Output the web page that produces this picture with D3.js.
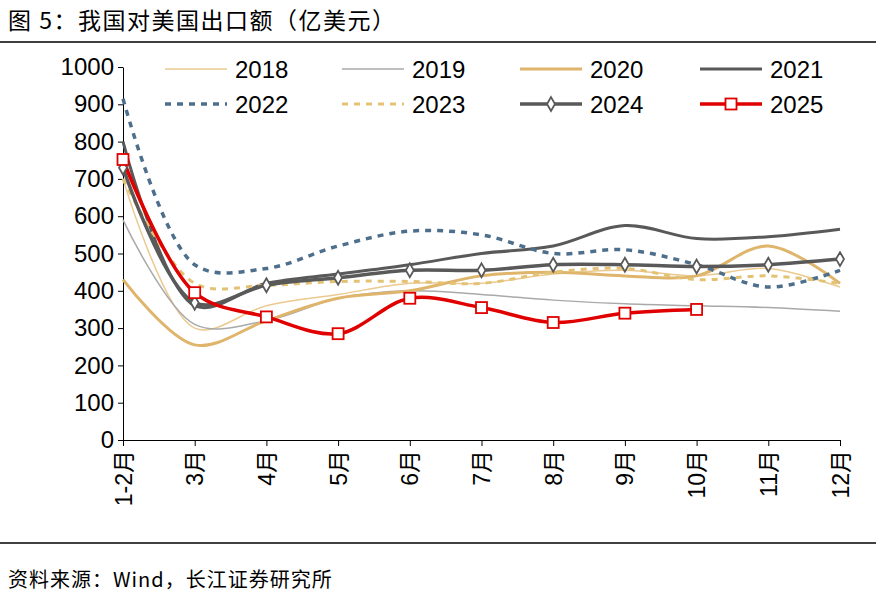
<!DOCTYPE html>
<html><head><meta charset="utf-8">
<script src="https://cdn.jsdelivr.net/npm/d3@7"></script>
<style>body{margin:0;background:#fff;font-family:"Liberation Sans",Arial,"Noto Sans CJK SC",sans-serif}</style>
</head><body><svg id="chart" width="876" height="594"></svg>
<script>
const months = ["1-2月","3月","4月","5月","6月","7月","8月","9月","10月","11月","12月"];
const yTicks = [0,100,200,300,400,500,600,700,800,900,1000];
const v2018 = [700,300,360,390,420,420,445,455,440,460,410];
const v2019 = [590,310,320,380,400,390,375,365,360,355,345];
const v2020 = [430,255,320,380,400,440,450,440,440,520,420];
const v2021 = [800,360,420,445,470,500,520,575,540,545,565];
const v2022 = [915,470,460,520,560,550,500,510,470,410,455];
const v2023 = [700,420,415,425,425,420,450,460,430,440,420];
const v2024 = [730,368,415,435,455,455,470,470,465,470,485];
const v2025 = [752,395,330,285,380,355,315,340,350];

const series = [
  {name:"2018", data:v2018, color:"#ebc98f", w:1.5},
  {name:"2019", data:v2019, color:"#a9a9a9", w:1.5},
  {name:"2020", data:v2020, color:"#dfb46b", w:3},
  {name:"2021", data:v2021, color:"#595959", w:3},
  {name:"2022", data:v2022, color:"#4d6f8c", w:3.5, dash:"6,6"},
  {name:"2023", data:v2023, color:"#e3c274", w:3, dash:"6,6"},
  {name:"2024", data:v2024, color:"#595959", w:3.5, marker:"diamond"},
  {name:"2025", data:v2025, color:"#e00000", w:3.5, marker:"square"}
];

const svg = d3.select("#chart");
const x = d3.scalePoint().domain(months).range([123, 840]);
const y = d3.scaleLinear().domain([0,1000]).range([440, 67]);

svg.append("text").attr("x",8).attr("y",29).attr("font-size",23).attr("fill","#000")
  .attr("letter-spacing",1.5).attr("font-family","Noto Sans CJK SC").text("图 5：我国对美国出口额（亿美元）");
svg.append("line").attr("x1",0).attr("x2",876).attr("y1",42).attr("y2",42).attr("stroke","#000").attr("stroke-width",1.5);
svg.append("line").attr("x1",0).attr("x2",876).attr("y1",543).attr("y2",543).attr("stroke","#000").attr("stroke-width",1.5);
svg.append("text").attr("x",8).attr("y",587).attr("font-size",20).attr("letter-spacing",1).attr("font-family","Noto Sans CJK SC")
  .text("资料来源：Wind，长江证券研究所");

const yAxis = svg.append("g").attr("transform","translate(123,0)")
  .call(d3.axisLeft(y).tickValues(yTicks).tickFormat(d3.format("d")).tickSize(5).tickSizeOuter(0));
yAxis.selectAll("text").attr("font-size",24).attr("fill","#000").attr("dx",-1);
yAxis.select(".domain").attr("stroke","#000");

const xAxis = svg.append("g").attr("transform","translate(0,440)")
  .call(d3.axisBottom(x).tickSize(6).tickSizeOuter(0));
xAxis.select(".domain").attr("stroke","#000");
xAxis.selectAll("text").attr("font-size",23).attr("fill","#000")
  .attr("transform","rotate(-90)").attr("text-anchor","end")
  .attr("x",-10).attr("y",0).attr("dy","0.35em")
  .attr("font-family","Liberation Sans, Noto Sans CJK SC");

const line = d3.line().x((d,i)=>x(months[i])).y(d=>y(d)).curve(d3.curveCatmullRom.alpha(0.5));

series.forEach(s=>{
  svg.append("path").attr("d",line(s.data)).attr("fill","none")
    .attr("stroke",s.color).attr("stroke-width",s.w).attr("stroke-dasharray",s.dash||null);
});
series.forEach(s=>{
  if(s.marker==="diamond"){
    svg.selectAll(null).data(s.data).enter().append("path")
      .attr("d",d3.symbol(d3.symbolDiamond,55)())
      .attr("transform",(d,i)=>`translate(${x(months[i])},${y(d)})`)
      .attr("fill","#fff").attr("stroke",s.color).attr("stroke-width",1.8);
  } else if(s.marker==="square"){
    svg.selectAll(null).data(s.data).enter().append("rect")
      .attr("x",(d,i)=>x(months[i])-5.5).attr("y",d=>y(d)-5.5)
      .attr("width",11).attr("height",11)
      .attr("fill","#fff").attr("stroke",s.color).attr("stroke-width",1.8);
  }
});

// legend
const lx = [165,342,520,700], ly = [69,104];
series.forEach((s,i)=>{
  const cx = lx[i%4], cy = ly[Math.floor(i/4)];
  svg.append("line").attr("x1",cx).attr("x2",cx+62).attr("y1",cy).attr("y2",cy)
    .attr("stroke",s.color).attr("stroke-width",s.w).attr("stroke-dasharray",s.dash||null);
  if(s.marker==="diamond"){
    svg.append("path").attr("d",d3.symbol(d3.symbolDiamond,55)()).attr("transform",`translate(${cx+31},${cy})`)
      .attr("fill","#fff").attr("stroke",s.color).attr("stroke-width",1.8);
  } else if(s.marker==="square"){
    svg.append("rect").attr("x",cx+25.5).attr("y",cy-5.5).attr("width",11).attr("height",11)
      .attr("fill","#fff").attr("stroke",s.color).attr("stroke-width",1.8);
  }
  svg.append("text").attr("x",cx+70).attr("y",cy+9).attr("font-size",24).text(s.name);
});
</script></body></html>
